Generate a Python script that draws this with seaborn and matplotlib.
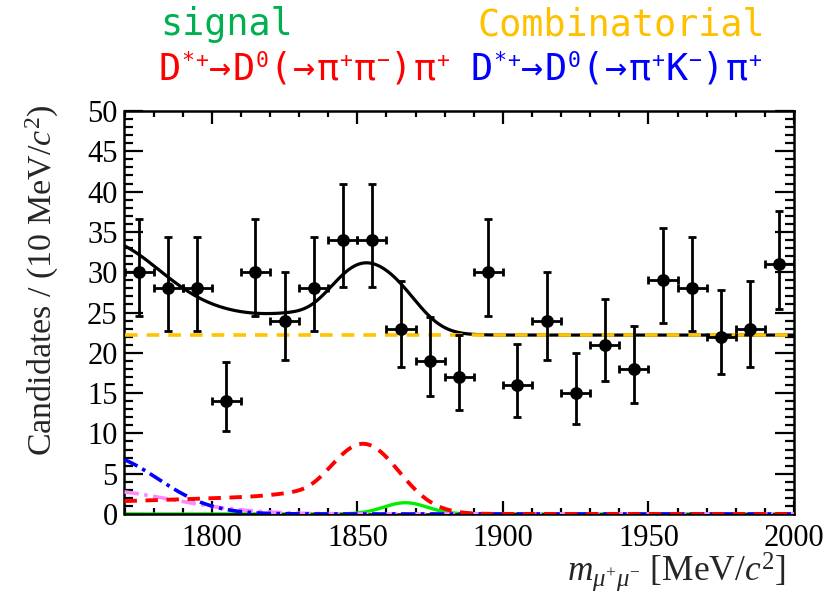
import numpy as np
import pandas as pd
import matplotlib
matplotlib.use("Agg")
import matplotlib.pyplot as plt
from matplotlib.ticker import MultipleLocator
import seaborn as sns

# ---- data: dimuon invariant mass, 10 MeV bins ----
bin_centers = [1775, 1785, 1795, 1805, 1815, 1825, 1835, 1845, 1855, 1865, 1875, 1885,
               1895, 1905, 1915, 1925, 1935, 1945, 1955, 1965, 1975, 1985, 1995]
counts = [30, 28, 28, 14, 30, 24, 28, 34, 34, 23, 19, 17,
          30, 16, 24, 15, 21, 18, 29, 28, 22, 23, 31]
bin_width = 10.0

# ---- fit component parameters (per 10 MeV) ----
comb_level = 22.2                       # combinatorial, flat
pipi_peak, pipi_mean, pipi_sigma = 8.7, 1852.0, 12.3   # D0 -> pi pi misID peak
pipi_tail_level, pipi_tail_slope, pipi_tail_edge, pipi_tail_width = 1.6, 150.0, 1830.0, 4.0
kpi_amp, kpi_mean, kpi_sigma = 7.3, 1762.4, 18.8       # D0 -> K pi misID
other_amp, other_mean, other_sigma = 3.03, 1757.6, 27.8  # partially reconstructed
sig_amp, sig_mean, sig_sigma = 1.4, 1866.5, 7.5         # signal

x_lo, x_hi = 1770, 2000
y_lo, y_hi = 0, 50

sns.set_style("ticks")
plt.rcParams["font.family"] = ["Liberation Serif", "DejaVu Sans"]
plt.rcParams["mathtext.fontset"] = "custom"
plt.rcParams["mathtext.rm"] = "Liberation Serif"
plt.rcParams["mathtext.it"] = "Liberation Serif:italic"

W, H = 834, 593
fig = plt.figure(figsize=(W / 100, H / 100), dpi=100)
ax = fig.add_axes([124.5 / W, 1 - 514 / H, (794 - 124.5) / W, (514 - 111) / H])

mass = np.linspace(x_lo, x_hi, 800)


def gauss(x, a, m, s):
    return a * np.exp(-0.5 * ((x - m) / s) ** 2)


comb = np.full_like(mass, comb_level)
pipi = gauss(mass, pipi_peak, pipi_mean, pipi_sigma) + \
    pipi_tail_level * np.exp((mass - x_lo) / pipi_tail_slope) / \
    (1 + np.exp((mass - pipi_tail_edge) / pipi_tail_width))
kpi = gauss(mass, kpi_amp, kpi_mean, kpi_sigma)
other = gauss(mass, other_amp, other_mean, other_sigma)
sig = gauss(mass, sig_amp, sig_mean, sig_sigma)
total = comb + pipi + kpi + other + sig

curves = pd.DataFrame({"mass": mass, "total": total, "comb": comb, "pipi": pipi,
                       "kpi": kpi, "other": other, "sig": sig})

# components
sns.lineplot(data=curves, x="mass", y="sig", ax=ax, color="#00ee00", lw=2.4, zorder=2)
sns.lineplot(data=curves, x="mass", y="other", ax=ax, color="#ff88ff", lw=2.6,
             linestyle=(0, (4, 1.5, 1, 1.5)), zorder=3)
sns.lineplot(data=curves, x="mass", y="kpi", ax=ax, color="#0000ff", lw=2.6,
             linestyle=(0, (4, 1.5, 1, 1.5)), zorder=3)
sns.lineplot(data=curves, x="mass", y="pipi", ax=ax, color="#ff0000", lw=2.8,
             linestyle=(0, (3.2, 2.2)), zorder=3)
sns.lineplot(data=curves, x="mass", y="total", ax=ax, color="black", lw=2.3, zorder=4)
sns.lineplot(data=curves, x="mass", y="comb", ax=ax, color="#ffc400", lw=2.6,
             linestyle=(0, (3.5, 2.5)), zorder=5)

# data points with Poisson errors
n = np.array(counts, dtype=float)
err_lo = np.sqrt(n - 0.25)
err_hi = np.sqrt(n + 0.75) + 1.0
ax.errorbar(bin_centers, counts, yerr=[err_lo, err_hi], xerr=bin_width / 2,
            fmt="none", ecolor="black", elinewidth=2.0, capsize=3, capthick=2.0, zorder=6)
sns.scatterplot(x=bin_centers, y=counts, ax=ax, color="black", s=85, edgecolor="black",
                linewidth=0, zorder=7)

ax.set_xlim(x_lo, x_hi)
ax.set_ylim(y_lo, y_hi)
ax.xaxis.set_major_locator(MultipleLocator(50))
ax.xaxis.set_minor_locator(MultipleLocator(10))
ax.yaxis.set_major_locator(MultipleLocator(5))
ax.yaxis.set_minor_locator(MultipleLocator(1))
ax.tick_params(axis="both", which="both", direction="in", top=True, right=True,
               width=1.6, colors="black", labelsize=22)
ax.tick_params(axis="y", which="major", length=13.5, pad=5)
ax.tick_params(axis="y", which="minor", length=6.5)
ax.tick_params(axis="x", which="major", length=9.5, pad=7)
ax.tick_params(axis="x", which="minor", length=4.5)
for sp in ax.spines.values():
    sp.set_linewidth(1.8)
    sp.set_color("black")

ax.set_xlabel("")
ax.set_ylabel("")
fig.text(42 / W, 1 - 280 / H, r"Candidates / (10 MeV/$c^{2}$)", rotation=90,
         ha="center", va="center", fontsize=24.5)
fig.text(786 / W, 1 - 572 / H, r"$m_{\mu^{+}\mu^{-}}$ [MeV/$c^{2}$]",
         ha="right", va="center", fontsize=25.5)

# legend text in a monospaced face
mono = ["DejaVu Sans Mono", "DejaVu Sans"]
fig.text(160 / W, 1 - 35 / H, "signal", color="#00b050", family=mono,
         fontsize=26.5, ha="left", va="baseline")
fig.text(477 / W, 1 - 35 / H, "Combinatorial", color="#ffc000", family=mono,
         fontsize=26.5, ha="left", va="baseline")


def decay_label(x_px, base_px, pieces, color, size=26.5, sup_size=15.5,
                adv=23.6, sup_adv=13.2, sup_rise=13):
    """Write a decay string cell by cell on a monospaced grid;
    pieces flagged True are superscripts."""
    x = x_px
    for txt, sup in pieces:
        for ch in txt:
            y = base_px - (sup_rise if sup else 0)
            fig.text((x + (sup_adv if sup else adv) / 2) / W, 1 - y / H, ch,
                     color=color, family=mono, fontsize=sup_size if sup else size,
                     ha="center", va="baseline")
            x += sup_adv if sup else adv


pipi_pieces = [("D", False), ("*+", True), ("→D", False), ("0", True),
               ("(→π", False), ("+", True), ("π", False), ("−", True),
               (")π", False), ("+", True)]
kpi_pieces = [("D", False), ("*+", True), ("→D", False), ("0", True),
              ("(→π", False), ("+", True), ("K", False), ("−", True),
              (")π", False), ("+", True)]
decay_label(158, 80, pipi_pieces, "#ff0000")
decay_label(470, 80, kpi_pieces, "#0000ff")

fig.savefig("out.png", dpi=100)
